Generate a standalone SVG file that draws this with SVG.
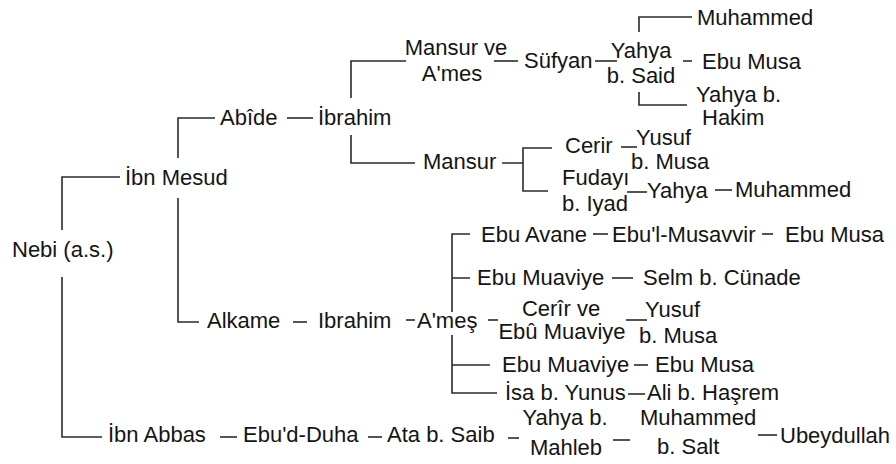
<svg xmlns="http://www.w3.org/2000/svg" width="896" height="464" viewBox="0 0 896 464">
<style>
text{font-family:"Liberation Sans",Arial,sans-serif;font-size:22px;fill:#141414}
.m{text-anchor:middle}
.c{fill:none;stroke:#2a2a2a;stroke-width:1.6}
</style>
<rect width="896" height="464" fill="#fff"/>
<g id="connectors" class="c">
<path d="M120,177H62V230M62,277V437H102"/>
<path d="M215,118H178V158M178,198V322H199"/>
<path d="M287,118H313"/>
<path d="M406,61H351V98M351,135V163H415"/>
<path d="M494,61H518"/>
<path d="M595,61H617"/>
<path d="M692,17H639V32M639,92V105H687"/>
<path d="M683,61H692"/>
<path d="M502,163H523M552,148H523V191H548"/>
<path d="M621,147H637"/>
<path d="M627,192H647"/>
<path d="M715,190H732"/>
<path d="M293,322H307"/>
<path d="M406,320H415"/>
<path d="M470,234H452V312M452,335V393H497M452,278H470M452,365H490"/>
<path d="M488,320H498"/>
<path d="M593,234H608"/>
<path d="M762,234H773"/>
<path d="M612,278H633"/>
<path d="M626,320H647"/>
<path d="M634,365H648"/>
<path d="M628,394H645"/>
<path d="M220,437H237"/>
<path d="M368,437H382"/>
<path d="M508,438H519"/>
<path d="M613,440H630"/>
<path d="M758,435H777"/>
</g>
<g id="nebi"><text x="12" y="257">Nebi (a.s.)</text></g>
<g id="ibn-mesud"><text x="125" y="185">İbn Mesud</text></g>
<g id="abide"><text x="220" y="125">Abîde</text></g>
<g id="ibrahim1"><text x="318" y="125">İbrahim</text></g>
<g id="mansur-ames"><text class="m" x="456" y="55">Mansur ve</text><text class="m" x="452" y="81">A'mes</text></g>
<g id="sufyan"><text x="524" y="68">Süfyan</text></g>
<g id="yahya-said"><text class="m" x="641" y="58">Yahya</text><text class="m" x="641" y="83">b. Said</text></g>
<g id="muhammed1"><text x="697" y="25">Muhammed</text></g>
<g id="ebu-musa1"><text x="702" y="69">Ebu Musa</text></g>
<g id="yahya-hakim"><text x="696" y="102">Yahya b.</text><text x="702" y="125">Hakim</text></g>
<g id="mansur"><text x="423" y="169">Mansur</text></g>
<g id="cerir"><text x="565" y="153">Cerir</text></g>
<g id="yusuf1"><text x="636" y="145">Yusuf</text><text x="631" y="169">b. Musa</text></g>
<g id="fudayi"><text x="562" y="185">Fudayı</text><text x="562" y="211">b. Iyad</text></g>
<g id="yahya2"><text x="647" y="198">Yahya</text></g>
<g id="muhammed2"><text x="735" y="197">Muhammed</text></g>
<g id="alkame"><text x="207" y="328">Alkame</text></g>
<g id="ibrahim2"><text x="318" y="328">Ibrahim</text></g>
<g id="ames"><text x="417" y="328">A'meş</text></g>
<g id="ebu-avane"><text x="481" y="242">Ebu Avane</text></g>
<g id="ebul-musavvir"><text x="612" y="242">Ebu'l-Musavvir</text></g>
<g id="ebu-musa2"><text x="785" y="242">Ebu Musa</text></g>
<g id="ebu-muaviye1"><text x="477" y="285">Ebu Muaviye</text></g>
<g id="selm"><text x="643" y="285">Selm b. Cünade</text></g>
<g id="cerir-ebu-muaviye"><text class="m" x="561" y="316">Cerîr ve</text><text class="m" x="562" y="339">Ebû Muaviye</text></g>
<g id="yusuf2"><text x="645" y="317">Yusuf</text><text x="639" y="343">b. Musa</text></g>
<g id="ebu-muaviye2"><text x="502" y="372">Ebu Muaviye</text></g>
<g id="ebu-musa3"><text x="655" y="372">Ebu Musa</text></g>
<g id="isa"><text x="505" y="400">İsa b. Yunus</text></g>
<g id="ali"><text x="647" y="400">Ali b. Haşrem</text></g>
<g id="ibn-abbas"><text x="108" y="442">İbn Abbas</text></g>
<g id="ebud-duha"><text x="243" y="442">Ebu'd-Duha</text></g>
<g id="ata"><text x="387" y="442">Ata b. Saib</text></g>
<g id="yahya-mahleb"><text class="m" x="565" y="425">Yahya b.</text><text class="m" x="566" y="455">Mahleb</text></g>
<g id="muhammed-salt"><text x="640" y="425">Muhammed</text><text x="657" y="454">b. Salt</text></g>
<g id="ubeydullah"><text x="780" y="443">Ubeydullah</text></g>
</svg>
